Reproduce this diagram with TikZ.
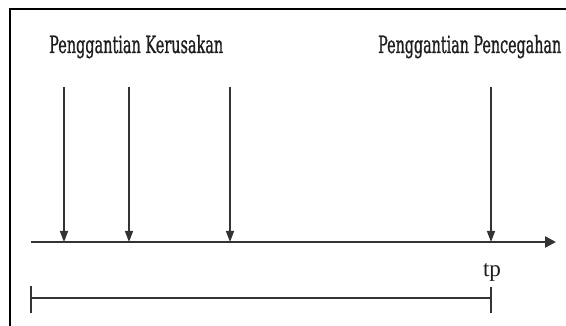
\documentclass[tikz,border=0pt]{standalone}
\usepackage{fontspec}
\usepackage{graphicx}
\newfontfamily\slabfont[FakeBold=1.2]{DejaVu Serif}
\newfontfamily\tickfont{Liberation Serif}
\usetikzlibrary{arrows.meta}
\definecolor{ink}{HTML}{1E1E1E}
\definecolor{rule}{HTML}{333333}
\tikzset{
  frameline/.style={draw=black, line width=2pt},
  heading/.style={inner sep=0pt, anchor=base west, text=ink},
  event/.style={draw=rule, line width=1.5pt,
    -{Triangle[length=11pt, width=8pt]}},
  axisline/.style={draw=rule, line width=2.6pt,
    -{Triangle[length=11pt, width=11pt]}},
  spanline/.style={draw=rule, line width=2.2pt},
  tickmark/.style={draw=rule, line width=1.6pt},
}
\begin{document}
\begin{tikzpicture}[x=1pt, y=1pt]
  \useasboundingbox (0,0) rectangle (566,326);
  % open frame: left and top edges
  \draw[frameline] (10,0) -- (10,316.7) -- (567,316.7);

  % headings
  \node[heading] (kerusakan) at (49,273)
    {\resizebox{174pt}{18pt}{\slabfont Penggantian Kerusakan}};
  \node[heading] (pencegahan) at (378,273)
    {\resizebox{183pt}{18pt}{\slabfont Penggantian Pencegahan}};

  % time axis
  \coordinate (axstart) at (31,84);
  \coordinate (axend) at (556,84);
  \draw[axisline] (axstart) -- (axend);

  % failure replacements and preventive replacement
  \coordinate (f1top) at (64,239);
  \coordinate (f1) at (64,84);
  \coordinate (f2top) at (129,239);
  \coordinate (f2) at (129,84);
  \coordinate (f3top) at (230,239);
  \coordinate (f3) at (230,84);
  \coordinate (ptop) at (491,239);
  \coordinate (p) at (491,84);
  \draw[event] (f1top) -- (f1);
  \draw[event] (f2top) -- (f2);
  \draw[event] (f3top) -- (f3);
  \draw[event] (ptop) -- (p);

  % tp label
  \node[inner sep=0pt, anchor=base, text=ink] (tp) at (492,49)
    {\resizebox{!}{13pt}{\tickfont tp}};

  % interval up to tp
  \coordinate (s0) at (31,28);
  \coordinate (s1) at (491,28);
  \draw[spanline] (s0) -- (s1);
  \draw[tickmark] ([yshift=12pt]s0) -- ([yshift=-15pt]s0);
  \draw[tickmark] ([yshift=11pt]s1) -- ([yshift=-15pt]s1);
\end{tikzpicture}
\end{document}
